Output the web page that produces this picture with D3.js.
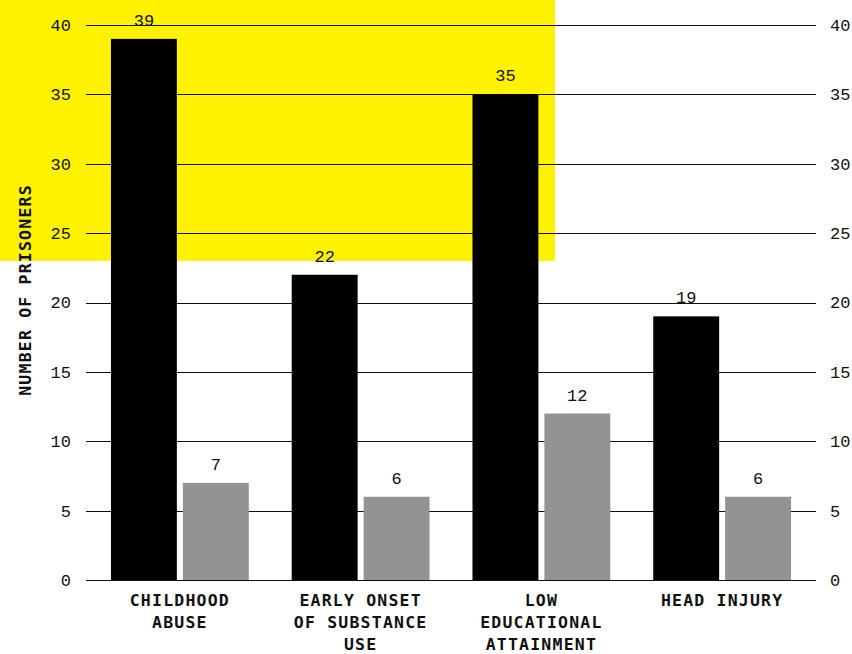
<!DOCTYPE html>
<html><head><meta charset="utf-8">
<script src="https://cdn.jsdelivr.net/npm/d3@7"></script>
<style>
html,body{margin:0;padding:0;background:#fff;}
svg{display:block;}
</style></head>
<body>
<svg id="chart" width="852" height="654"></svg>
<script>
const categories = [["CHILDHOOD","ABUSE"],["EARLY ONSET","OF SUBSTANCE","USE"],["LOW","EDUCATIONAL","ATTAINMENT"],["HEAD INJURY"]];
const seriesNames = ["a","b"];
const seriesA = [39, 22, 35, 19];
const seriesB = [7, 6, 12, 6];
const seriesColors = ["#000000", "#939396"];
const yTicks = [0,5,10,15,20,25,30,35,40];
const yTitle = "NUMBER OF PRISONERS";

const W = 852, H = 654;
const margin = {left: 86, right: 36, top: 25, bottom: 74};
const svg = d3.select("#chart");
const font = "'Liberation Mono', 'DejaVu Sans Mono', monospace";
const boldFont = "'DejaVu Sans Mono', 'Liberation Mono', monospace";

const x0 = d3.scaleBand().domain(d3.range(categories.length))
  .range([margin.left, W - margin.right]).paddingInner(0.2376).paddingOuter(0.138);
const x1 = d3.scaleBand().domain(seriesNames).range([0, x0.bandwidth()]).paddingInner(0.0833).paddingOuter(0);
const y = d3.scaleLinear().domain([0, 40]).range([H - margin.bottom, margin.top]);

// decorative yellow block
svg.append("rect").attr("x", 0).attr("y", 0).attr("width", 555).attr("height", y(23))
  .attr("fill", "#fff200");

// gridlines
svg.append("g").selectAll("line").data(yTicks).join("line")
  .attr("x1", margin.left).attr("x2", W - margin.right)
  .attr("y1", d => Math.round(y(d)) + 0.5).attr("y2", d => Math.round(y(d)) + 0.5)
  .attr("stroke", "#111").attr("stroke-width", 1);

// left & right axes
const leftAxis = svg.append("g").attr("transform", `translate(${margin.left - 15},0)`)
  .call(d3.axisLeft(y).tickValues(yTicks).tickSize(0).tickPadding(0));
const rightAxis = svg.append("g").attr("transform", `translate(${W - margin.right + 14},0)`)
  .call(d3.axisRight(y).tickValues(yTicks).tickSize(0).tickPadding(0));
[leftAxis, rightAxis].forEach(a => {
  a.select(".domain").remove();
  a.selectAll("text").attr("font-family", font).attr("font-size", 17).attr("fill", "#111");
});

// bars
const data = categories.map((c, i) => ({i, vals: [seriesA[i], seriesB[i]]}));
const groups = svg.append("g").selectAll("g").data(data).join("g")
  .attr("transform", d => `translate(${x0(d.i)},0)`);
groups.selectAll("rect").data(d => d.vals.map((v, k) => ({v, k}))).join("rect")
  .attr("x", d => x1(seriesNames[d.k])).attr("width", x1.bandwidth())
  .attr("y", d => y(d.v)).attr("height", d => y(0) - y(d.v))
  .attr("fill", d => seriesColors[d.k]);
groups.selectAll("text.val").data(d => d.vals.map((v, k) => ({v, k}))).join("text")
  .attr("class", "val")
  .attr("x", d => x1(seriesNames[d.k]) + x1.bandwidth() / 2)
  .attr("y", d => y(d.v) - 13)
  .attr("text-anchor", "middle").attr("font-family", font).attr("font-size", 17)
  .attr("fill", "#111").text(d => d.v);

// category labels
const cl = svg.append("g").selectAll("text").data(categories).join("text")
  .attr("x", (d, i) => x0(i) + x0.bandwidth() / 2)
  .attr("y", y(0) + 26)
  .attr("text-anchor", "middle").attr("font-family", boldFont).attr("font-size", 16.5)
  .attr("font-weight", "bold").attr("letter-spacing", 1.2).attr("fill", "#111");
cl.selectAll("tspan").data(d => d).join("tspan")
  .attr("x", function() { return this.parentNode.getAttribute("x"); })
  .attr("dy", (d, j) => j === 0 ? 0 : 22).text(d => d);

// y title
svg.append("text").attr("transform", `translate(31,290) rotate(-90)`)
  .attr("text-anchor", "middle").attr("font-family", boldFont).attr("font-size", 16.5)
  .attr("font-weight", "bold").attr("letter-spacing", 1.2).attr("fill", "#111")
  .text(yTitle);
</script>
</body></html>
